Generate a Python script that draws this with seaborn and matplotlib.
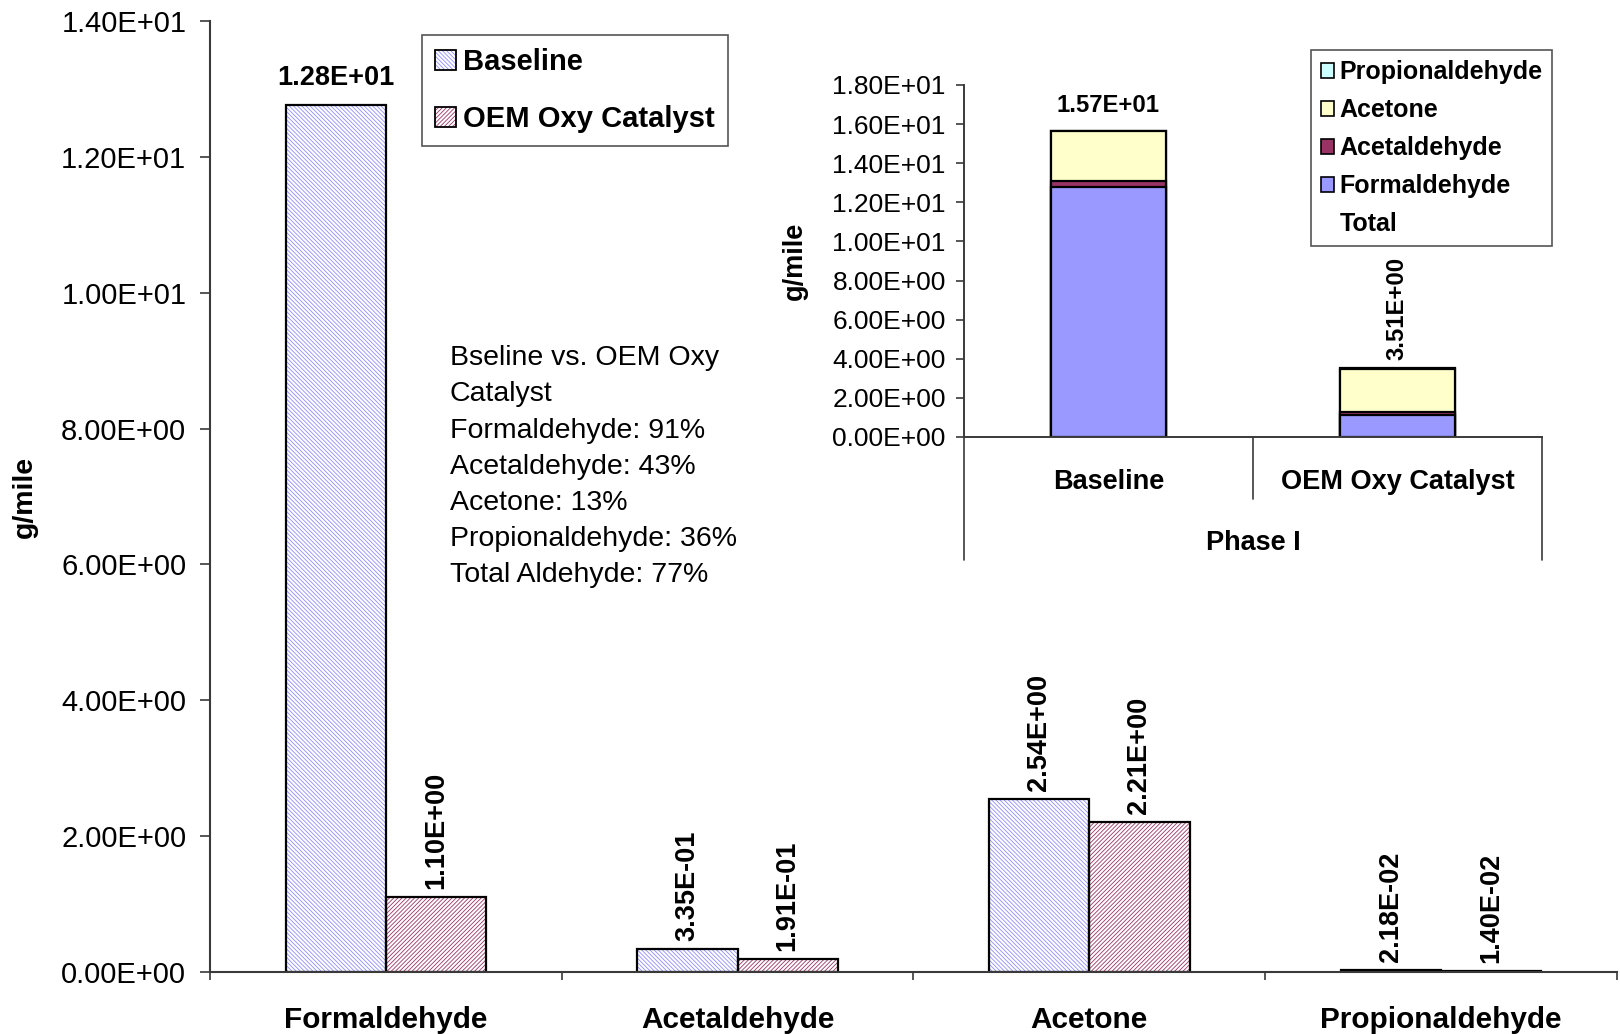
import numpy as np
import pandas as pd
import matplotlib
matplotlib.use("Agg")
import matplotlib.pyplot as plt
import matplotlib.transforms as mtransforms
from matplotlib.patches import Patch
from matplotlib.legend_handler import HandlerTuple
import seaborn as sns

# ---------------- data ----------------
compounds = ["Formaldehyde", "Acetaldehyde", "Acetone", "Propionaldehyde"]
configs = ["Baseline", "OEM Oxy Catalyst"]
baseline_vals = [12.77, 0.335, 2.54, 0.0218]
oem_vals = [1.098, 0.191, 2.21, 0.014]
main_yticks = [0, 2, 4, 6, 8, 10, 12, 14]
inset_yticks = [0, 2, 4, 6, 8, 10, 12, 14, 16, 18]
inset_group = "Phase I"
inset_total_label = "Total"
summary_lines = [
    "Bseline vs. OEM Oxy",
    "Catalyst",
    "Formaldehyde: 91%",
    "Acetaldehyde: 43%",
    "Acetone: 13%",
    "Propionaldehyde: 36%",
    "Total Aldehyde: 77%",
]
y_label = "g/mile"

# ---------------- style ----------------
sns.set_theme(style="white")
plt.rcParams["font.family"] = ["Liberation Sans", "DejaVu Sans"]
plt.rcParams["hatch.linewidth"] = 0.6
for key in ["text.color", "axes.labelcolor", "xtick.labelcolor", "ytick.labelcolor"]:
    plt.rcParams[key] = "black"

hatch_colors = ["#8f8fff", "#993366"]
hatches = ["\\\\\\\\\\\\\\\\", "////////"]
stack_colors = ["#9999FF", "#993366", "#FFFFCC", "#CCFFFF"]
spine_color = "#3a3a3a"


def fmt(v):
    return "{:.2E}".format(v)


df = pd.DataFrame({
    "compound": compounds * 2,
    "config": [configs[0]] * len(compounds) + [configs[1]] * len(compounds),
    "value": baseline_vals + oem_vals,
})

fig = plt.figure(figsize=(16.2, 10.34), dpi=100)
ax = fig.add_axes([0.1296, 0.06, 0.8685, 0.9197])

# hatched fill
sns.barplot(data=df, x="compound", y="value", hue="config", order=compounds,
            hue_order=configs, palette=["white", "white"], width=0.57, gap=0,
            errorbar=None, saturation=1, linewidth=0, legend=False, ax=ax)
for i, cont in enumerate(list(ax.containers)[:2]):
    for bar in cont:
        bar.set_hatch(hatches[i])
        bar.set_edgecolor(hatch_colors[i])
        bar.set_linewidth(0)
fill_containers = list(ax.containers)[:2]

# black outlines
sns.barplot(data=df, x="compound", y="value", hue="config", order=compounds,
            hue_order=configs, palette=["black", "black"], width=0.57, gap=0,
            errorbar=None, saturation=1, fill=False, linewidth=1.6,
            legend=False, ax=ax)

# value labels
for cont in fill_containers:
    for bar in cont:
        v = bar.get_height()
        xc = bar.get_x() + bar.get_width() / 2
        if v > 10:
            ax.annotate(fmt(v), (xc, v), xytext=(0, 9.5), textcoords="offset points",
                        ha="center", va="bottom", fontsize=19.5, fontweight="bold")
        else:
            ax.annotate(fmt(v), (xc, v), xytext=(0, 6), textcoords="offset points",
                        ha="center", va="bottom", rotation=90, fontsize=19.5,
                        fontweight="bold")

ax.set_xlim(-0.5, len(compounds) - 0.5)
ax.set_ylim(0, 14)
ax.set_yticks(main_yticks)
ax.set_yticklabels([fmt(t) for t in main_yticks])
ax.set_xticks(range(len(compounds)))
ax.set_xticklabels(compounds, fontweight="bold", fontsize=21.4)
ax.set_xticks(np.arange(-0.5, len(compounds), 1.0), minor=True)
ax.tick_params(axis="x", which="major", length=0, pad=24.5)
ax.tick_params(axis="x", which="minor", length=6, width=1.2, color=spine_color,
               direction="out", bottom=True)
ax.tick_params(axis="y", length=7, width=1.2, color=spine_color, direction="out",
               left=True, labelsize=21, pad=10)
ax.set_xlabel("")
ax.set_ylabel(y_label, fontsize=20.5, fontweight="bold")
ax.yaxis.set_label_coords(-0.122, 0.5)
sns.despine(ax=ax)
for s in ["left", "bottom"]:
    ax.spines[s].set_color(spine_color)
    ax.spines[s].set_linewidth(1.5)
ax.patch.set_alpha(0)

ax.text(0.1706, 0.659, "\n".join(summary_lines), transform=ax.transAxes,
        ha="left", va="top", fontsize=20.5, linespacing=1.51)

# main legend
main_handles = []
for i in range(2):
    p1 = Patch(facecolor="white", edgecolor=hatch_colors[i], hatch=hatches[i], linewidth=0)
    p2 = Patch(facecolor="none", edgecolor="black", linewidth=1.3)
    main_handles.append((p1, p2))
leg1 = fig.legend(main_handles, configs, loc="upper left",
                  bbox_to_anchor=(0.2605, 0.9662), borderaxespad=0,
                  handler_map={tuple: HandlerTuple(ndivide=1, pad=0)},
                  prop={"weight": "bold", "size": 21}, frameon=True,
                  fancybox=False, edgecolor="#555555", framealpha=1,
                  handlelength=0.7, handleheight=0.7, handletextpad=0.25,
                  labelspacing=1.0, borderpad=0.45)
leg1.get_frame().set_linewidth(1.2)

# ---------------- inset ----------------
ax_in = fig.add_axes([0.595, 0.5774, 0.3568, 0.3404])
vals = np.array([baseline_vals, oem_vals])
cum = np.cumsum(vals, axis=1)
for k in range(len(compounds) - 1, -1, -1):
    sns.barplot(x=configs, y=cum[:, k], order=configs, color=stack_colors[k],
                width=0.4, saturation=1, edgecolor="black", linewidth=1.6,
                errorbar=None, ax=ax_in)
totals = cum[:, -1]
for i, t in enumerate(totals):
    if t > 10:
        ax_in.annotate(fmt(t), (i, t), xytext=(0, 10), textcoords="offset points",
                       ha="center", va="bottom", fontsize=17.2, fontweight="bold")
    else:
        ax_in.annotate(fmt(t), (i, t), xytext=(0, 6), textcoords="offset points",
                       ha="center", va="bottom", rotation=90, fontsize=17.2,
                       fontweight="bold")

ax_in.set_xlim(-0.5, len(configs) - 0.5)
ax_in.set_ylim(0, 18)
ax_in.set_yticks(inset_yticks)
ax_in.set_yticklabels([fmt(t) for t in inset_yticks])
ax_in.set_xticks(range(len(configs)))
ax_in.set_xticklabels(configs, fontweight="bold", fontsize=19.5)
ax_in.tick_params(axis="x", length=0, pad=23)
ax_in.tick_params(axis="y", length=6, width=1.2, color=spine_color, direction="out",
                  left=True, labelsize=19, pad=7)
ax_in.set_ylabel(y_label, fontsize=19.5, fontweight="bold")
ax_in.yaxis.set_label_coords(-0.27, 0.5)
ax_in.set_xlabel("")
sns.despine(ax=ax_in)
for s in ["left", "bottom"]:
    ax_in.spines[s].set_color(spine_color)
    ax_in.spines[s].set_linewidth(1.4)
ax_in.patch.set_alpha(0)

trans = mtransforms.blended_transform_factory(ax_in.transData, ax_in.transAxes)
seps = np.arange(-0.5, len(configs), 1.0)
for j, xs in enumerate(seps):
    depth = -0.35 if j in (0, len(seps) - 1) else -0.177
    ax_in.plot([xs, xs], [0, depth], transform=trans, color=spine_color,
               lw=1.2, clip_on=False)
ax_in.text(0.5, -0.302, inset_group, transform=ax_in.transAxes, ha="center",
           va="center", fontsize=19.5, fontweight="bold")

inset_handles = [Patch(facecolor=stack_colors[k], edgecolor="black", linewidth=1.2)
                 for k in range(len(compounds) - 1, -1, -1)]
inset_handles.append(Patch(facecolor="none", edgecolor="none"))
inset_labels = [compounds[k] for k in range(len(compounds) - 1, -1, -1)] + [inset_total_label]
leg2 = fig.legend(inset_handles, inset_labels, loc="upper left",
                  bbox_to_anchor=(0.809, 0.9516), borderaxespad=0,
                  prop={"weight": "bold", "size": 18}, frameon=True,
                  fancybox=False, edgecolor="#555555", framealpha=1,
                  handlelength=0.55, handleheight=0.55, handletextpad=0.2,
                  labelspacing=0.56, borderpad=0.4)
leg2.get_frame().set_linewidth(1.2)

fig.savefig("out.png", dpi=100)
